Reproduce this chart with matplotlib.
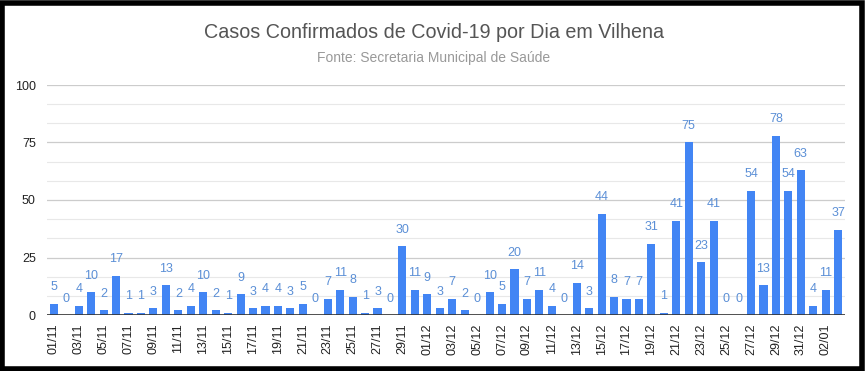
import numpy as np
from matplotlib import pyplot as plt
from matplotlib.patches import Rectangle

plt.rcParams["font.family"] = ["Liberation Sans", "DejaVu Sans"]

nov = [5, 0, 4, 10, 2, 17, 1, 1, 3, 13, 2, 4, 10, 2, 1, 9, 3, 4, 4, 3,
       5, 0, 7, 11, 8, 1, 3, 0, 30, 11]
dec = [9, 3, 7, 2, 0, 10, 5, 20, 7, 11, 4, 0, 14, 3, 44, 8, 7, 7, 31, 1,
       41, 75, 23, 41, 0, 0, 54, 13, 78, 54, 63]
jan = [4, 11, 37]

dates = ([f"{d:02d}/11" for d in range(1, 31)] +
         [f"{d:02d}/12" for d in range(1, 32)] +
         [f"{d:02d}/01" for d in range(1, 4)])
cases = nov + dec + jan

fig = plt.figure(figsize=(8.67, 3.71), dpi=100)
ax = fig.add_axes([47 / 867, 1 - 315 / 371, 798 / 867, 230 / 371])

x = np.arange(len(cases))
ax.bar(x, cases, width=0.65, color="#4285f4", zorder=3)
for xi, v in zip(x, cases):
    ax.annotate(str(v), (xi, v), xytext=(0, 7.5), textcoords="offset points",
                ha="center", va="bottom", fontsize=9, color="#5b8fd6")

ax.set_xlim(-0.55, len(cases) - 0.45)
ax.set_ylim(0, 100)
ax.set_yticks([0, 25, 50, 75, 100])
ax.set_yticks(np.arange(0, 100, 25 / 3), minor=True)
ax.grid(axis="y", which="major", color="#cccccc", lw=0.9, zorder=0)
ax.grid(axis="y", which="minor", color="#e8e8e8", lw=0.8, zorder=0)
ax.axhline(0, color="#333333", lw=1.2, zorder=4)

ax.set_xticks(x[::2])
ax.set_xticklabels(dates[::2], rotation=90, fontsize=9, color="#222222")
ax.tick_params(axis="x", length=0, pad=6)
ax.tick_params(axis="y", which="both", length=0, labelsize=9,
               labelcolor="#222222", pad=8)
for s in ax.spines.values():
    s.set_visible(False)

fig.text(0.5, 1 - 32 / 371, "Casos Confirmados de Covid-19 por Dia em Vilhena",
         ha="center", va="center", fontsize=14.2, color="#555555")
fig.text(0.5, 1 - 58 / 371, "Fonte: Secretaria Municipal de Saúde",
         ha="center", va="center", fontsize=10, color="#999999")

# black frame around the screenshot
fig.patches.append(Rectangle((2 / 867, 2 / 371), 1 - 7 / 867, 1 - 5 / 371,
                             transform=fig.transFigure, fill=False,
                             edgecolor="black", lw=4))

fig.savefig("out.png", dpi=100)
